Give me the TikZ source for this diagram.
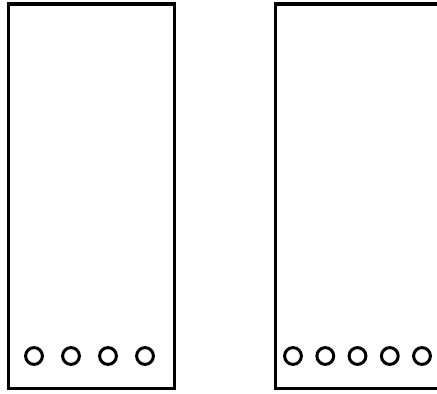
\documentclass[tikz,border=0pt]{standalone}
\usepackage{tikz}
\usetikzlibrary{positioning}

\tikzset{
  panel/.style={rectangle,draw,line width=3.4pt,minimum width=165.6pt,minimum height=384.7pt,inner sep=0pt},
  hole/.style={circle,draw,line width=3pt,minimum size=16.8pt,inner sep=0pt}
}

\begin{document}
\begin{tikzpicture}[x=1pt,y=-1pt]
\useasboundingbox (0,0) rectangle (437,394);
\clip (0,0) rectangle (437,394);
\node[panel] (leftpanel) at (91.5,196.3) {};
\node[panel] (rightpanel) at (358.3,196.3) {};
\foreach \i/\x in {1/34,2/71,3/108,4/145} {
    \node[hole] (lh\i) at (\x,356) {};
}
\foreach \i/\x in {1/293,2/325.3,3/357.5,4/389.8,5/422} {
    \node[hole] (rh\i) at (\x,356) {};
}
\end{tikzpicture}
\end{document}
